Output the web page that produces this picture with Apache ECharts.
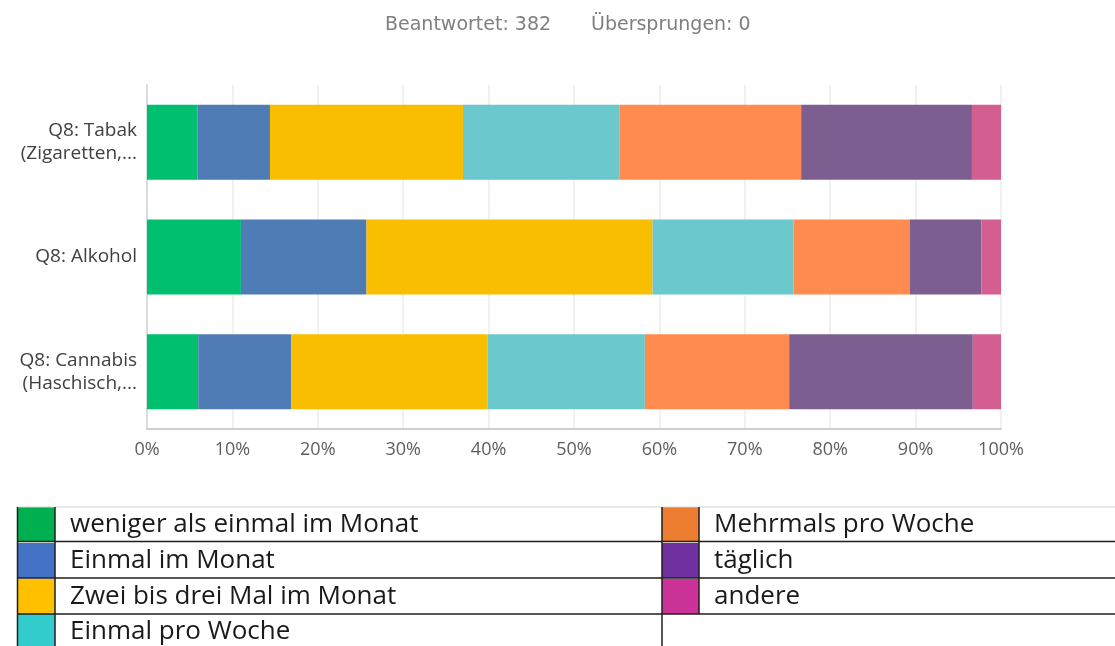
<!DOCTYPE html>
<html>
<head>
<meta charset="utf-8">
<title>Q8</title>
<script src="https://cdn.jsdelivr.net/npm/echarts@6/dist/echarts.min.js"></script>
<style>
  html, body { margin: 0; padding: 0; background: #fff; }
  #chart { width: 1115px; height: 646px; }
</style>
</head>
<body>
<div id="chart"></div>
<script>
// substances (y axis), top to bottom
const categories = ['Q8: Tabak\n(Zigaretten,...', 'Q8: Alkohol', 'Q8: Cannabis\n(Haschisch,...']
const answers = [
  'weniger als einmal im Monat',
  'Einmal im Monat',
  'Zwei bis drei Mal im Monat',
  'Einmal pro Woche',
  'Mehrmals pro Woche',
  'täglich',
  'andere'
]
// percent per substance (Tabak, Alkohol, Cannabis)
const wenigerAlsEinmal = [5.9, 11.0, 6.0]
const einmalImMonat = [8.5, 14.7, 10.9]
const zweiBisDrei = [22.6, 33.5, 23.0]
const einmalProWoche = [18.3, 16.5, 18.4]
const mehrmalsProWoche = [21.3, 13.6, 16.9]
const taeglich = [20.0, 8.4, 21.5]
const andere = [3.4, 2.3, 3.3]
const xTicks = [0, 10, 20, 30, 40, 50, 60, 70, 80, 90, 100]

const values = [wenigerAlsEinmal, einmalImMonat, zweiBisDrei, einmalProWoche, mehrmalsProWoche, taeglich, andere]
const barColors = ['#00BF6F', '#507CB6', '#F9BE00', '#6BC8CD', '#FF8B4F', '#7D5E90', '#D25F90']
const keyColors = ['#00B050', '#4472C4', '#FFC000', '#33CCCC', '#ED7D31', '#7030A0', '#CC3399']

const lineDark = '#1e1e1e'
function hline (y, x1, x2, color, w) {
  return { type: 'line', z: 100, shape: { x1: x1, y1: y, x2: x2, y2: y }, style: { stroke: color, lineWidth: w } }
}
function vline (x, y1, y2) {
  return { type: 'line', z: 100, shape: { x1: x, y1: y1, x2: x, y2: y2 }, style: { stroke: lineDark, lineWidth: 1.5 } }
}

// key table below the chart: one legend block per column part
function keyLegend (names, left, top) {
  return {
    orient: 'vertical',
    left: left,
    top: top,
    padding: 0,
    itemGap: 1,
    itemWidth: 37,
    itemHeight: 35,
    selectedMode: false,
    icon: 'rect',
    textStyle: {
      fontFamily: 'Open Sans',
      fontSize: 26,
      color: '#1a1a1a',
      padding: [0, 0, 0, 10]
    },
    data: names.map(n => ({ name: n, itemStyle: { color: keyColors[answers.indexOf(n)], borderWidth: 0 } }))
  }
}

let option = {
  animation: false,
  title: [
    {
      text: 'Beantwortet: 382',
      left: 385, top: 16, padding: 0,
      textStyle: { fontFamily: 'DejaVu Sans', fontSize: 19, fontWeight: 'normal', color: '#7f7f7f' }
    },
    {
      text: 'Übersprungen: 0',
      left: 591, top: 16, padding: 0,
      textStyle: { fontFamily: 'DejaVu Sans', fontSize: 19, fontWeight: 'normal', color: '#7f7f7f' }
    }
  ],
  legend: [
    keyLegend(answers.slice(0, 3), 18, 507),
    keyLegend(answers.slice(3, 4), 18, 614),
    keyLegend(answers.slice(4), 662, 507)
  ],
  grid: {
    left: 147, right: 114, top: 85, bottom: 217,
    containLabel: false,
    outerBoundsMode: 'none'
  },
  xAxis: {
    type: 'value',
    min: 0,
    max: 100,
    interval: 10,
    axisLine: { show: true, lineStyle: { color: '#cfcfcf', width: 2 } },
    axisTick: { show: false },
    splitLine: { lineStyle: { color: '#ececec', width: 1.5 } },
    axisLabel: {
      margin: 12,
      fontFamily: 'Open Sans',
      fontSize: 18,
      color: '#5e5e5e',
      formatter: v => (xTicks.indexOf(v) >= 0 ? v + '%' : '')
    }
  },
  yAxis: {
    type: 'category',
    inverse: true,
    data: categories,
    axisLine: { show: true, lineStyle: { color: '#dcdcdc', width: 2 } },
    axisTick: { show: false },
    axisLabel: {
      margin: 10,
      fontFamily: 'Open Sans',
      fontSize: 19,
      lineHeight: 23,
      color: '#404040',
      align: 'right'
    }
  },
  series: answers.map((name, i) => ({
    name: name,
    type: 'bar',
    stack: 'total',
    barWidth: 75,
    data: values[i],
    itemStyle: { color: barColors[i] }
  })),
  graphic: [
    hline(507, 17, 1115, '#d4d4d4', 1),
    hline(541.5, 17, 1115, lineDark, 1.5),
    hline(578, 17, 1115, lineDark, 1.5),
    hline(614, 17, 1115, lineDark, 1.5),
    vline(17.5, 507, 646),
    vline(55, 507, 646),
    vline(662, 507, 646),
    vline(699, 507, 614)
  ]
}

let mychart = echarts.init(document.getElementById('chart'))
mychart.setOption(option)
</script>
</body>
</html>
